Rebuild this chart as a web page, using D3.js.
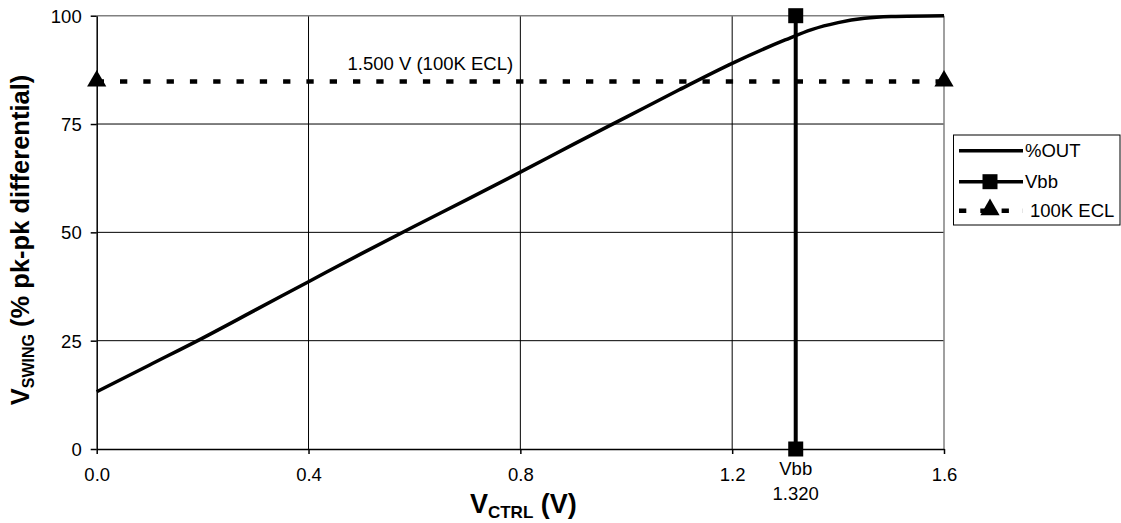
<!DOCTYPE html>
<html>
<head>
<meta charset="utf-8">
<script src="https://cdn.jsdelivr.net/npm/d3@7"></script>
<style>
  body { margin: 0; background: #fff; }
  svg { display: block; font-family: "Liberation Sans", Arial, sans-serif; }
</style>
</head>
<body>
<svg id="chart" width="1121" height="523"></svg>
<script>
// %OUT curve
var vctrl = [0.0, 0.1, 0.2, 0.3, 0.4, 0.5, 0.6, 0.7, 0.8, 0.9, 1.0, 1.1, 1.2, 1.3, 1.35, 1.4, 1.45, 1.5, 1.6];
var pctOut = [13.2, 19.4, 25.6, 32.1, 38.6, 45.1, 51.4, 57.6, 63.9, 70.3, 76.6, 82.9, 89.0, 94.4, 96.8, 98.4, 99.4, 99.8, 100];

// Vbb marker line
var vbbX = [1.32, 1.32];
var vbbY = [0, 100];

// 100K ECL level
var eclX = [0.0, 1.6];
var eclY = [84.8, 84.8];

var xTicks = [0.0, 0.4, 0.8, 1.2, 1.6];
var yTicks = [0, 25, 50, 75, 100];
var legendNames = ['%OUT', 'Vbb', '100K ECL'];

var margin = {top: 15.7, left: 96.7},
    plotW = 847.3,
    plotH = 433.3;

var svg = d3.select('#chart');
var g = svg.append('g').attr('transform', 'translate(' + margin.left + ',' + margin.top + ')');

var x = d3.scaleLinear().domain([0, 1.6]).range([0, plotW]);
var y = d3.scaleLinear().domain([0, 100]).range([plotH, 0]);

// gridlines
g.selectAll('.vgrid').data(xTicks.slice(1, -1)).enter().append('line')
  .attr('x1', d => x(d)).attr('x2', d => x(d))
  .attr('y1', 0).attr('y2', plotH)
  .attr('stroke', '#000').attr('stroke-width', 1);
g.selectAll('.hgrid').data(yTicks.slice(1, -1)).enter().append('line')
  .attr('x1', 0).attr('x2', plotW)
  .attr('y1', d => y(d)).attr('y2', d => y(d))
  .attr('stroke', '#000').attr('stroke-width', 1);

// top and right border in grey
g.append('line').attr('x1', 0).attr('x2', plotW).attr('y1', y(100)).attr('y2', y(100))
  .attr('stroke', '#808080').attr('stroke-width', 1.5);
g.append('line').attr('x1', x(1.6)).attr('x2', x(1.6)).attr('y1', 0).attr('y2', plotH)
  .attr('stroke', '#808080').attr('stroke-width', 1.5);

// axes
var xAxis = d3.axisBottom(x).tickValues(xTicks).tickFormat(d3.format('.1f')).tickSizeInner(5).tickSizeOuter(0).tickPadding(14);
var yAxis = d3.axisLeft(y).tickValues(yTicks).tickSizeInner(6).tickSizeOuter(0).tickPadding(9);

var xg = g.append('g').attr('transform', 'translate(0,' + plotH + ')').call(xAxis);
var yg = g.append('g').call(yAxis);
[xg, yg].forEach(function(a) {
  a.selectAll('path, line').attr('stroke', '#000').attr('stroke-width', 1.5);
  a.selectAll('text').attr('font-size', 18.5).attr('fill', '#000')
    .attr('font-family', '"Liberation Sans", Arial, sans-serif');
});
yg.selectAll('text').attr('dy', '0.35em');

// 100K ECL dashed line
var line = d3.line().x(d => x(d[0])).y(d => y(d[1]));
var eclPts = eclX.map((v, i) => [v, eclY[i]]);
g.append('path').datum(eclPts).attr('d', line)
  .attr('fill', 'none').attr('stroke', '#000').attr('stroke-width', 4.5)
  .attr('stroke-dasharray', '7.3,16');

// %OUT curve
var curve = d3.line().x(d => x(d[0])).y(d => y(d[1])).curve(d3.curveMonotoneX);
g.append('path').datum(vctrl.map((v, i) => [v, pctOut[i]])).attr('d', curve)
  .attr('fill', 'none').attr('stroke', '#000').attr('stroke-width', 3.5);

// Vbb line
var vbbPts = vbbX.map((v, i) => [v, vbbY[i]]);
g.append('path').datum(vbbPts).attr('d', line)
  .attr('fill', 'none').attr('stroke', '#000').attr('stroke-width', 4);

var sq = d3.symbol().type(d3.symbolSquare).size(225);
var tri = d3.symbol().type(d3.symbolTriangle).size(160);

g.selectAll('.sq').data(vbbPts).enter().append('path')
  .attr('d', sq).attr('transform', d => 'translate(' + x(d[0]) + ',' + y(d[1]) + ')')
  .attr('fill', '#000');
g.selectAll('.tri').data(eclPts).enter().append('path')
  .attr('d', tri).attr('transform', d => 'translate(' + x(d[0]) + ',' + (y(d[1]) - 0.5) + ')')
  .attr('fill', '#000');

// annotations
g.append('text').attr('x', x(0.63)).attr('y', y(eclY[0]) - 12)
  .attr('font-size', 18.5).attr('text-anchor', 'middle').text('1.500 V (100K ECL)');
g.append('text').attr('x', x(vbbX[0])).attr('y', plotH + 26)
  .attr('font-size', 18.5).attr('text-anchor', 'middle').text('Vbb');
g.append('text').attr('x', x(vbbX[0])).attr('y', plotH + 51)
  .attr('font-size', 18.5).attr('text-anchor', 'middle').text(d3.format('.3f')(vbbX[0]));

// axis titles
var xt = svg.append('text').attr('x', margin.left + plotW / 2 + 3).attr('y', 513)
  .attr('text-anchor', 'middle').attr('font-weight', 'bold').attr('font-size', 27);
xt.append('tspan').text('V');
xt.append('tspan').attr('font-size', 17).attr('dy', 5).text('CTRL');
xt.append('tspan').attr('dy', -5).text(' (V)');

var yt = svg.append('text').attr('transform', 'translate(29,240) rotate(-90)')
  .attr('text-anchor', 'middle').attr('font-weight', 'bold').attr('font-size', 25.5);
yt.append('tspan').text('V');
yt.append('tspan').attr('font-size', 16).attr('dy', 5).text('SWING');
yt.append('tspan').attr('dy', -5).text(' (% pk-pk differential)');

// legend
var lg = svg.append('g');
lg.append('rect').attr('x', 953.5).attr('y', 135).attr('width', 166.5).attr('height', 90)
  .attr('fill', '#fff').attr('stroke', '#000').attr('stroke-width', 1);
var rows = [150.7, 181.7, 210.7];
legendNames.forEach(function(name, i) {
  var ly = rows[i];
  var l = lg.append('line').attr('x1', 959).attr('x2', 1023).attr('y1', ly).attr('y2', ly)
    .attr('stroke', '#000').attr('stroke-width', i == 2 ? 4.5 : 3.5);
  if (i == 2) l.attr('stroke-dasharray', '7.3,14');
  if (i == 1) lg.append('path').attr('d', sq).attr('transform', 'translate(990,' + ly + ')');
  if (i == 2) lg.append('path').attr('d', tri).attr('transform', 'translate(990,' + (ly - 1) + ')');
  lg.append('text').attr('x', i == 2 ? 1030 : 1025).attr('y', ly).attr('dy', '0.35em')
    .attr('font-size', 18.5).text(name);
});
</script>
</body>
</html>
